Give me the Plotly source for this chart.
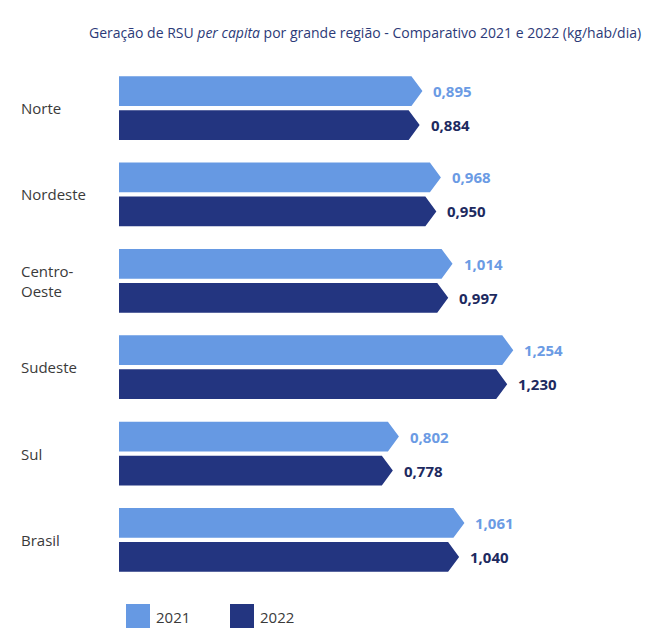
import plotly.graph_objects as go

# data (kg/hab/dia)
regions = ["Norte", "Nordeste", "Centro-<br>Oeste", "Sudeste", "Sul", "Brasil"]
years = ["2021", "2022"]
values_2021 = [0.895, 0.968, 1.014, 1.254, 0.802, 1.061]
values_2022 = [0.884, 0.950, 0.997, 1.230, 0.778, 1.040]

LIGHT = "#6699e3"
DARK = "#233580"
FONT = "Open Sans"

# the page body has an 8px margin, so the figure is drawn 8px smaller and
# every target pixel position below is given in window coordinates
PAGE = 8
W, H = 662 - PAGE, 641 - PAGE
L, R, T, B = 12, 20, 31, 32
PX_PER_UNIT = 253.0
ZERO_PX = 196.0


def fx(px):
    # window pixel -> figure pixel
    return px - PAGE


X0 = -(fx(ZERO_PX) - L) / PX_PER_UNIT
X1 = X0 + (W - L - R) / PX_PER_UNIT
BASE = (119 - ZERO_PX) / PX_PER_UNIT  # bars start at the same left edge
TIP = 11 / PX_PER_UNIT                # arrow point length
HALF = 0.172                          # half bar thickness (y units)
OFFSET = 0.197                        # distance of each bar from group centre


def paper_x(px):
    return (fx(px) - L) / (W - L - R)


def paper_y(py):
    return (H - B - fx(py)) / (H - T - B)


def fmt(v):
    return f"{v:.3f}".replace(".", ",")


fig = go.Figure()
annotations = []

series = [
    (years[0], values_2021, LIGHT, -OFFSET, "#6b9be4"),
    (years[1], values_2022, DARK, OFFSET, "#1d2a5f"),
]
for name, vals, color, off, txt_color in series:
    xs, ys = [], []
    for i, v in enumerate(vals):
        yc = i + off
        xs += [BASE, v - TIP, v, v - TIP, BASE, BASE, None]
        ys += [yc - HALF, yc - HALF, yc, yc + HALF, yc + HALF, yc - HALF, None]
        annotations.append(dict(
            x=v, y=yc, xref="x", yref="y", text=f"<b>{fmt(v)}</b>",
            showarrow=False, xanchor="left", xshift=9,
            font=dict(family=FONT, size=15, color=txt_color),
        ))
    fig.add_trace(go.Scatter(
        x=xs, y=ys, mode="lines", fill="toself", fillcolor=color,
        line=dict(width=0, color=color), name=name, showlegend=False,
        hoverinfo="skip",
    ))

for i, r in enumerate(regions):
    annotations.append(dict(
        x=paper_x(19), y=i, xref="paper", yref="y", text=r, showarrow=False,
        xanchor="left", align="left",
        font=dict(family=FONT, size=15, color="#3a3a3a"),
    ))

annotations.append(dict(
    x=paper_x(365), y=paper_y(33), xref="paper", yref="paper",
    text="Geração de RSU <i>per capita</i> por grande região - Comparativo 2021 e 2022 (kg/hab/dia)",
    showarrow=False, xanchor="center", yanchor="middle",
    font=dict(family=FONT, size=14, color="#2c3a78"),
))

# hand-drawn legend with big square swatches
shapes = []
for (x_left, name, color) in [(126, years[0], LIGHT), (230, years[1], DARK)]:
    shapes.append(dict(
        type="rect", xref="paper", yref="paper",
        x0=paper_x(x_left), x1=paper_x(x_left + 24),
        y0=paper_y(628), y1=paper_y(604),
        fillcolor=color, line=dict(width=0),
    ))
    annotations.append(dict(
        x=paper_x(x_left + 28), y=paper_y(617), xref="paper", yref="paper",
        text=name, showarrow=False, xanchor="left", yanchor="middle",
        font=dict(family=FONT, size=15, color="#3a3a3a"),
    ))

fig.update_xaxes(visible=False, range=[X0, X1], fixedrange=True)
fig.update_yaxes(visible=False, range=[5.8, -0.8], fixedrange=True)
fig.update_layout(
    width=W, height=H,
    margin=dict(l=L, r=R, t=T, b=B),
    paper_bgcolor="white", plot_bgcolor="white",
    annotations=annotations, shapes=shapes,
    showlegend=False,
)

fig.write_html("out.html")
